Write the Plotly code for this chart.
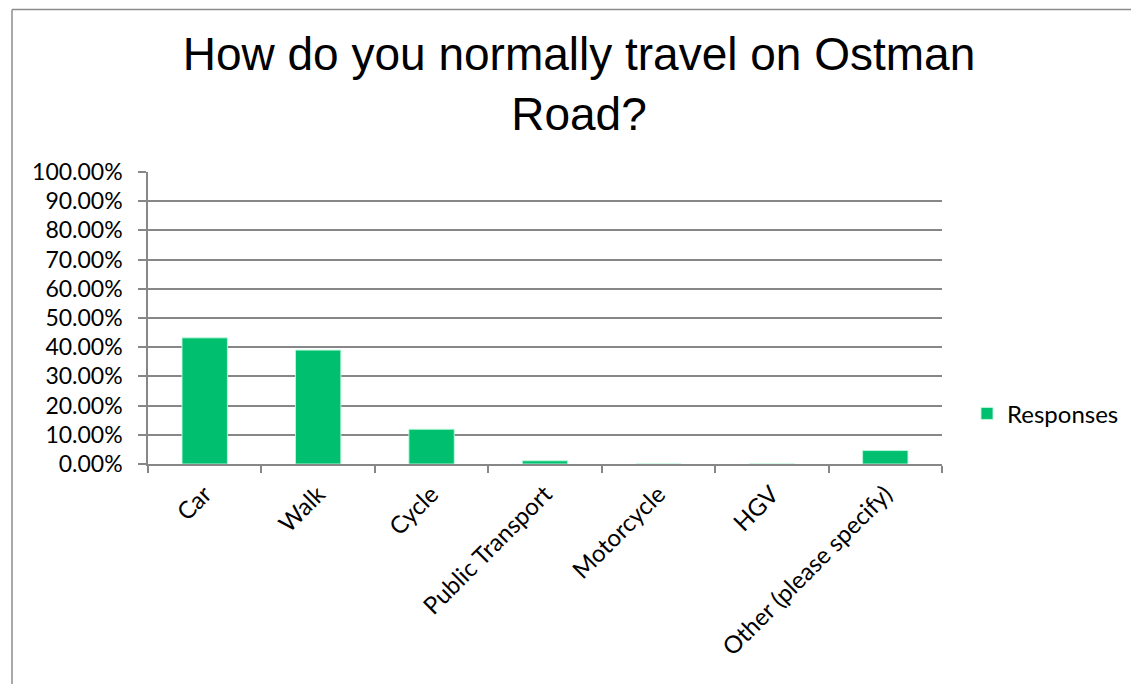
import plotly.graph_objects as go

categories = ["Car", "Walk", "Cycle", "Public Transport", "Motorcycle", "HGV", "Other (please specify)"]
responses = [0.432, 0.390, 0.119, 0.011, 0.0, 0.0, 0.046]
y_ticks = [i / 10 for i in range(11)]
y_tick_labels = [f"{v*100:.2f}%" for v in y_ticks]
series_name = "Responses"
title_text = "How do you normally travel on Ostman<br>Road?"

# page body has an 8px margin; figure coordinates = page coordinates - 8
OFF = 8
W, H = 1139 - OFF, 684 - OFF
L, R, T, B = 148 - OFF, 942 - OFF, 171.5 - OFF, 464.3 - OFF  # plot area (figure px)
pw, ph = R - L, B - T

fig = go.Figure()
fig.add_trace(go.Bar(
    x=categories, y=responses, name=series_name,
    marker=dict(color="#00BF6F", line=dict(color="rgba(190,250,220,0.9)", width=1)),
    showlegend=True,
))

grid_col = "#878787"
fig.update_layout(
    width=W, height=H,
    margin=dict(l=L, r=W - R, t=T, b=H - B, pad=0),
    paper_bgcolor="white", plot_bgcolor="white",
    bargap=0.6,
    title=dict(text=title_text, x=(579 - OFF) / W, xref="container", xanchor="center",
               y=1 - 62 / H, yref="container", yanchor="top",
               font=dict(family="Liberation Sans, Arial", size=46, color="black")),
    xaxis=dict(showgrid=False, showline=True, linecolor=grid_col, linewidth=1.5,
               ticks="outside", tickson="boundaries", ticklen=7, tickcolor=grid_col, tickwidth=1.5,
               ticklabelstandoff=5,
               tickangle=-45, tickfont=dict(family="Lato", size=24, color="black")),
    yaxis=dict(range=[0, 1], tickvals=y_ticks, ticktext=y_tick_labels,
               showgrid=True, gridcolor=grid_col, gridwidth=1.5,
               showline=True, linecolor=grid_col, linewidth=1.5,
               ticks="outside", ticklen=8, tickcolor=grid_col, tickwidth=1.5,
               ticklabelstandoff=11,
               tickfont=dict(family="Lato", size=23, color="black"), zeroline=False),
    legend=dict(x=(959 - L) / pw, y=(B - 406) / ph, xanchor="left", yanchor="middle",
                font=dict(family="Lato", size=24, color="black"),
                itemwidth=30, bgcolor="rgba(0,0,0,0)"),
    shapes=[
        dict(type="line", xref="paper", yref="paper", x0=(4 - L) / pw, y0=(B - 0.5) / ph,
             x1=(W + 5 - L) / pw, y1=(B - 0.5) / ph,
             line=dict(color="#8c8c8c", width=1.5), layer="above"),
        dict(type="line", xref="paper", yref="paper", x0=(4 - L) / pw, y0=(B - 0.5) / ph,
             x1=(4 - L) / pw, y1=(B - H - 5) / ph,
             line=dict(color="#8c8c8c", width=1.5), layer="above"),
    ],
)

fig.write_html("out.html")
